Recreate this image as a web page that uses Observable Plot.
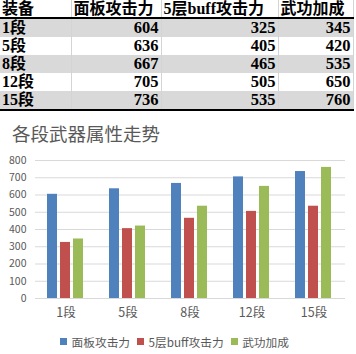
<!DOCTYPE html>
<html>
<head>
<meta charset="utf-8">
<script src="https://cdn.jsdelivr.net/npm/d3@7"></script>
<script src="https://cdn.jsdelivr.net/npm/@observablehq/plot@0.6"></script>
<style>
  html, body { margin: 0; padding: 0; background: #fff; }
  body { width: 356px; height: 354px; position: relative; overflow: hidden; }
  #tbl { position: absolute; left: 0; top: 0; border-collapse: collapse; table-layout: fixed;
         font-family: "Liberation Serif", "Noto Sans CJK SC", serif; font-weight: bold; font-size: 16px; color: #000; }
  #tbl td, #tbl th { padding: 0 2px; white-space: nowrap; overflow: hidden; border-right: 1px solid #d4d4d4; line-height: 16px; }
  #tbl th { height: 17px; text-align: left; font-weight: bold; border-bottom: 2px solid #000; }
  #tbl td { height: 18px; }
  #tbl td.num { text-align: right; font-size: 16.5px; line-height: 16px; }
  #tbl tr.shade td { background: #d9d9d9; }
  #tbl tr.last td { border-bottom: 2px solid #000; }
  #title { position: absolute; left: 12px; top: 124px; font-family: "Noto Sans CJK SC", sans-serif;
           font-size: 18.5px; line-height: 18.5px; color: #595959; }
  #grid, #chart { position: absolute; left: 0; top: 150px; }
  #legend { position: absolute; left: 0; top: 333px; width: 356px; }
  #legend .lg-swatches { display: flex; justify-content: center; align-items: center; min-height: 17px; margin: 0; }
  #legend .lg-swatch { margin-right: 7px; font-family: "Noto Sans CJK SC", sans-serif; font-size: 11.7px; color: #595959; }
  #legend .lg-swatch svg { margin-right: 4.5px; }
</style>
</head>
<body>
<table id="tbl"></table>
<div id="title">各段武器属性走势</div>
<div id="grid"></div>
<div id="chart"></div>
<div id="legend"></div>
<script>
// ---- data ----
const tableHeader = ["装备", "面板攻击力", "5层buff攻击力", "武功加成"];
const categories = ["1段", "5段", "8段", "12段", "15段"];
const seriesNames = ["面板攻击力", "5层buff攻击力", "武功加成"];
const panelAttack = [604, 636, 667, 705, 736];
const buff5Attack = [325, 405, 465, 505, 535];
const wugongBonus = [345, 420, 535, 650, 760];
const yTicks = [0, 100, 200, 300, 400, 500, 600, 700, 800];
const seriesColors = ["#4f81bd", "#c0504d", "#9bbb59"];

// ---- table ----
const colWidths = [71, 90, 117, 75];
const tbl = document.getElementById("tbl");
const cg = document.createElement("colgroup");
colWidths.forEach(w => { const c = document.createElement("col"); c.style.width = w + "px"; cg.appendChild(c); });
tbl.appendChild(cg);
const thead = document.createElement("thead");
const htr = document.createElement("tr");
tableHeader.forEach(h => { const th = document.createElement("th"); th.textContent = h; htr.appendChild(th); });
thead.appendChild(htr);
tbl.appendChild(thead);
const tbody = document.createElement("tbody");
const seriesValues = [panelAttack, buff5Attack, wugongBonus];
categories.forEach((c, i) => {
  const tr = document.createElement("tr");
  if (i % 2 === 0) tr.className = "shade";
  if (i === categories.length - 1) tr.className += " last";
  const td0 = document.createElement("td"); td0.textContent = c; tr.appendChild(td0);
  seriesValues.forEach(vals => {
    const td = document.createElement("td"); td.className = "num"; td.textContent = vals[i]; tr.appendChild(td);
  });
  tbody.appendChild(tr);
});
tbl.appendChild(tbody);

// ---- chart ----
const rows = categories.flatMap((c, i) =>
  seriesValues.map((vals, j) => ({cat: c, series: seriesNames[j], value: vals[i]})));

const common = {
  width: 356,
  height: 175,
  marginTop: 10,
  marginBottom: 27,
  marginLeft: 35,
  marginRight: 11,
  style: {fontFamily: "'Noto Sans CJK SC', sans-serif", fontSize: "10.5px", color: "#595959", background: "transparent"},
  y: {domain: [0, 800], axis: null}
};

// gridlines + y tick labels (continuous across the whole frame)
const gridPlot = Plot.plot({
  ...common,
  marks: [
    Plot.ruleY(yTicks, {y: d => d, stroke: "#d9d9d9", strokeWidth: 1}),
    Plot.text(yTicks, {y: d => d, text: d => String(d), frameAnchor: "left", textAnchor: "end", dx: -9, fill: "#595959"})
  ]
});
document.getElementById("grid").appendChild(gridPlot);

// grouped bars
const chart = Plot.plot({
  ...common,
  fx: {domain: categories, paddingInner: 0.37, paddingOuter: 0.185, label: null},
  x: {domain: seriesNames, paddingInner: 0.214, paddingOuter: 0, axis: null},
  color: {domain: seriesNames, range: seriesColors},
  marks: [
    Plot.barY(rows, {fx: "cat", x: "series", y: "value", fill: "series"}),
    Plot.axisFx({tickSize: 0, tickPadding: 10, fontSize: 12.5, label: null, anchor: "bottom"})
  ]
});
document.getElementById("chart").appendChild(chart);

const legend = Plot.legend({
  color: {domain: seriesNames, range: seriesColors, type: "ordinal"},
  swatchSize: 7,
  className: "lg"
});
document.getElementById("legend").appendChild(legend);
</script>
</body>
</html>
